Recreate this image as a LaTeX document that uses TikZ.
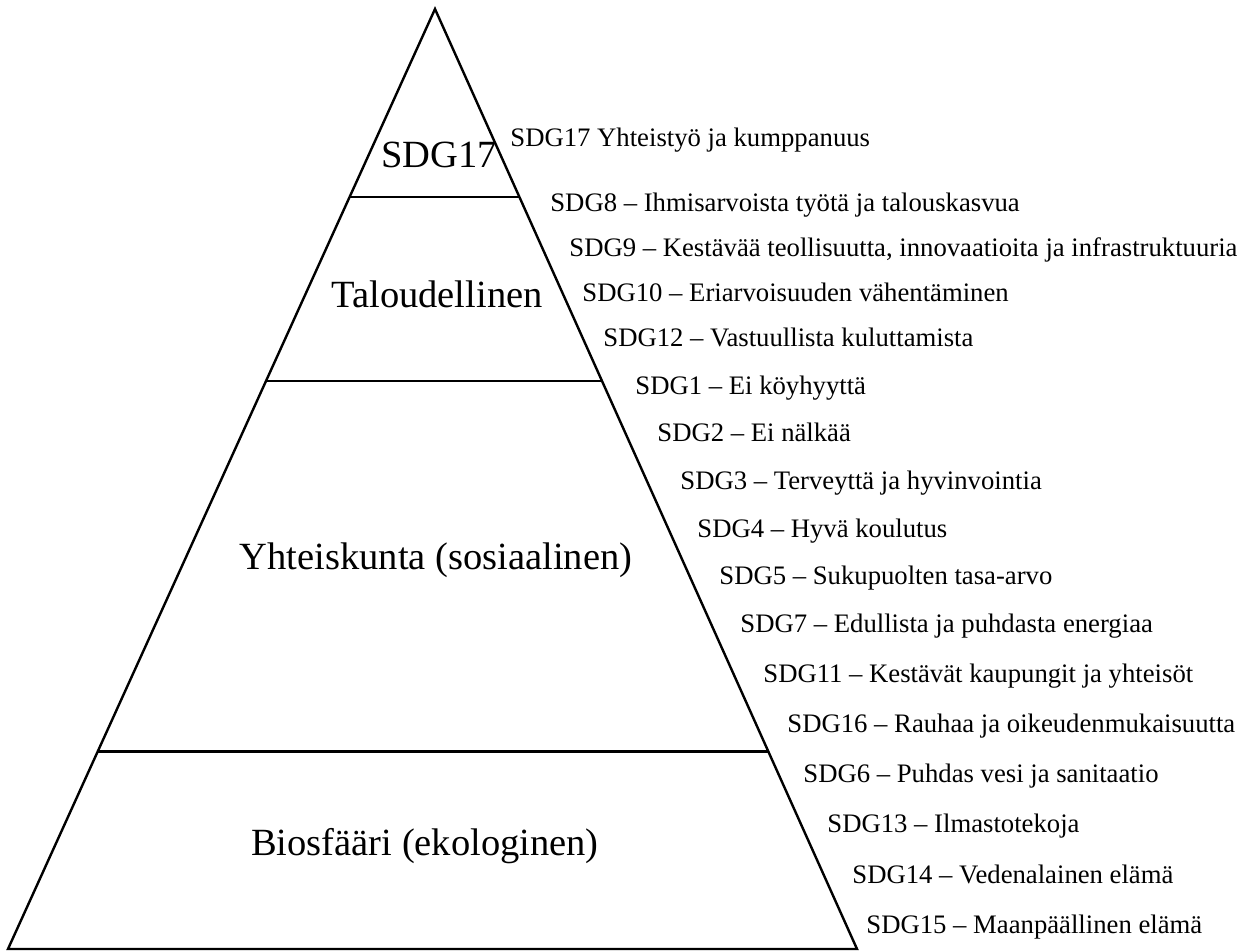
\documentclass[tikz,border=0pt]{standalone}
\usepackage{fontspec}
\setmainfont{Liberation Serif}
\usetikzlibrary{calc}

\begin{document}
\begin{tikzpicture}[x=0.5pt,y=-0.5pt]
% Define pyramid styles
\tikzstyle{layer} = [font=\fontsize{19.25}{23}\selectfont, inner sep=0pt]
\tikzstyle{goal} = [anchor=west, font=\fontsize{13.35}{16}\selectfont, inner sep=0pt, text height=0.7em, text depth=0.2em]
\tikzstyle{edge} = [line width=1.2pt, draw=black, line join=miter]
\useasboundingbox (0,0) rectangle (1243,951);
% Define pyramid corners
\coordinate (Apex) at (435,9);
\coordinate (BaseLeft) at (8,949);
\coordinate (BaseRight) at (857,949);
% Define layer boundaries
\coordinate (EconLeft) at ($(Apex)!0.2!(BaseLeft)$);
\coordinate (EconRight) at ($(Apex)!0.2!(BaseRight)$);
\coordinate (SocLeft) at ($(Apex)!0.396!(BaseLeft)$);
\coordinate (SocRight) at ($(Apex)!0.396!(BaseRight)$);
\coordinate (BioLeft) at ($(Apex)!0.79!(BaseLeft)$);
\coordinate (BioRight) at ($(Apex)!0.79!(BaseRight)$);
% Draw pyramid
\draw[edge] (Apex) -- (BaseLeft) -- (BaseRight) -- cycle;
\draw[edge] (EconLeft) -- (EconRight);
\draw[edge] (SocLeft) -- (SocRight);
\draw[edge] (BioLeft) -- (BioRight);
% Define layer nodes
\node[layer] (Partnership) at (439,155) {SDG17};
\node[layer] (Economy) at (437,294) {Taloudellinen};
\node[layer] (Society) at (436,560) {Yhteiskunta (sosiaalinen)};
\node[layer] (Biosphere) at (425,846) {Biosfääri (ekologinen)};
% Define goal nodes
\node[goal] (SDG17) at (510,142) {SDG17 Yhteistyö ja kumppanuus};
\node[goal] (SDG8) at (550,207) {SDG8 – Ihmisarvoista työtä ja talouskasvua};
\node[goal] (SDG9) at (569,252) {SDG9 – Kestävää teollisuutta, innovaatioita ja infrastruktuuria};
\node[goal] (SDG10) at (582,297) {SDG10 – Eriarvoisuuden vähentäminen};
\node[goal] (SDG12) at (603,342) {SDG12 – Vastuullista kuluttamista};
\node[goal] (SDG1) at (635,390) {SDG1 – Ei köyhyyttä};
\node[goal] (SDG2) at (657,437) {SDG2 – Ei nälkää};
\node[goal] (SDG3) at (680,485) {SDG3 – Terveyttä ja hyvinvointia};
\node[goal] (SDG4) at (697,533) {SDG4 – Hyvä koulutus};
\node[goal] (SDG5) at (719,580) {SDG5 – Sukupuolten tasa-arvo};
\node[goal] (SDG7) at (740,628) {SDG7 – Edullista ja puhdasta energiaa};
\node[goal] (SDG11) at (763,678) {SDG11 – Kestävät kaupungit ja yhteisöt};
\node[goal] (SDG16) at (787,728) {SDG16 – Rauhaa ja oikeudenmukaisuutta};
\node[goal] (SDG6) at (803,778) {SDG6 – Puhdas vesi ja sanitaatio};
\node[goal] (SDG13) at (827,828) {SDG13 – Ilmastotekoja};
\node[goal] (SDG14) at (852,878) {SDG14 – Vedenalainen elämä};
\node[goal] (SDG15) at (866,928) {SDG15 – Maanpäällinen elämä};
\end{tikzpicture}
\end{document}
